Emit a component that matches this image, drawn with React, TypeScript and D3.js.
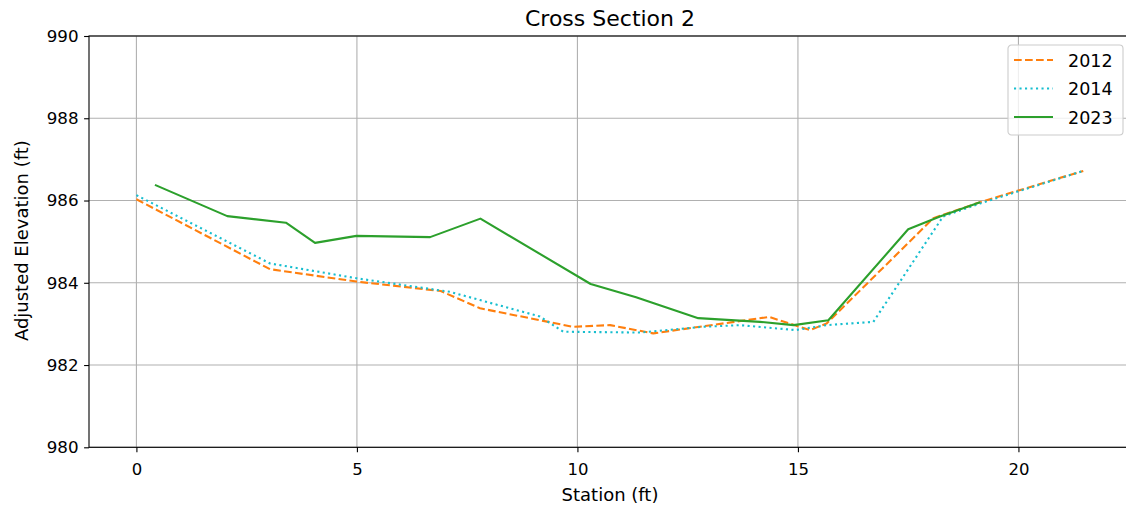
import { useEffect, useRef } from "react";
import * as d3 from "d3";

// survey data
const years = ["2012", "2014", "2023"];
const colors = ["#ff7f0e", "#17becf", "#2ca02c"];
const dashes = ["7.7,3.3", "2.1,3.4", null];

const station2012 = [0, 3.03, 4.99, 6.9, 7.79, 9.9, 10.74, 11.72, 14.35, 15.27, 15.65, 18.07, 19.13, 21.47];
const elev2012 = [986.03, 984.33, 984.03, 983.8, 983.38, 982.93, 982.97, 982.77, 983.17, 982.85, 983.01, 985.57, 985.96, 986.72];

const station2014 = [0, 3.03, 4.99, 7.11, 7.79, 9.15, 9.68, 11.42, 12.85, 13.68, 14.95, 15.65, 16.71, 18.29, 19.13, 21.47];
const elev2014 = [986.13, 984.47, 984.11, 983.78, 983.58, 983.18, 982.81, 982.79, 982.93, 982.97, 982.85, 982.97, 983.05, 985.61, 985.93, 986.72];

const station2023 = [0.42, 2.06, 3.39, 4.05, 4.99, 6.66, 7.8, 10.3, 11.33, 12.74, 14.14, 14.9, 15.69, 17.5, 18.22, 19.13];
const elev2023 = [986.38, 985.62, 985.46, 984.97, 985.14, 985.11, 985.56, 983.97, 983.65, 983.14, 983.05, 982.97, 983.09, 985.3, 985.61, 985.96];

const xTicks = [0, 5, 10, 15, 20];
const yTicks = [980, 982, 984, 986, 988, 990];

const W = 1126;
const H = 510;
const FONT = "DejaVu Sans, sans-serif";

const App = () => {
  const ref = useRef<SVGSVGElement>(null);

  useEffect(() => {
    const svg = d3.select(ref.current);
    svg.selectAll("*").remove();

    const left = 89, top = 36, bottom = 447.3, right = 1132;
    const x = d3.scaleLinear().domain([-1.075, 22.575]).range([left, right]);
    const y = d3.scaleLinear().domain([980, 990]).range([bottom, top]);

    svg.append("rect").attr("width", W).attr("height", H).attr("fill", "white");

    // grid
    const grid = svg.append("g").attr("stroke", "#b0b0b0").attr("stroke-width", 1.1);
    xTicks.forEach((t) => {
      grid.append("line").attr("x1", x(t)).attr("x2", x(t)).attr("y1", top).attr("y2", bottom);
    });
    yTicks.forEach((t) => {
      grid.append("line").attr("x1", left).attr("x2", right).attr("y1", y(t)).attr("y2", y(t));
    });

    // series
    const series = [
      { st: station2012, el: elev2012 },
      { st: station2014, el: elev2014 },
      { st: station2023, el: elev2023 },
    ];
    const line = d3
      .line<[number, number]>()
      .x((d) => x(d[0]))
      .y((d) => y(d[1]));

    svg.append("defs").append("clipPath").attr("id", "plotclip")
      .append("rect").attr("x", left).attr("y", top).attr("width", right - left).attr("height", bottom - top);

    series.forEach((s, i) => {
      const pts = s.st.map((v, j) => [v, s.el[j]] as [number, number]);
      svg.append("path")
        .attr("d", line(pts))
        .attr("fill", "none")
        .attr("stroke", colors[i])
        .attr("stroke-width", 2.1)
        .attr("stroke-dasharray", dashes[i])
        .attr("stroke-linejoin", "round")
        .attr("clip-path", "url(#plotclip)");
    });

    // spines
    svg.append("rect")
      .attr("x", left).attr("y", top)
      .attr("width", right - left).attr("height", bottom - top)
      .attr("fill", "none").attr("stroke", "black").attr("stroke-width", 1.1);

    // x axis
    const gx = svg.append("g").attr("transform", `translate(0,${bottom})`)
      .call(d3.axisBottom(x).tickValues(xTicks).tickSize(4.9).tickPadding(4.9).tickFormat(d3.format("d")));
    gx.select(".domain").remove();
    gx.selectAll("line").attr("stroke", "black").attr("stroke-width", 1.1);
    gx.selectAll("text").attr("font-family", FONT).attr("font-size", 16.5).attr("fill", "black")
      .attr("dy", null).attr("y", 28);

    // y axis
    const gy = svg.append("g").attr("transform", `translate(${left},0)`)
      .call(d3.axisLeft(y).tickValues(yTicks).tickSize(4.9).tickPadding(5.5).tickFormat(d3.format("d")));
    gy.select(".domain").remove();
    gy.selectAll("line").attr("stroke", "black").attr("stroke-width", 1.1);
    gy.selectAll("text").attr("font-family", FONT).attr("font-size", 16.7).attr("fill", "black");

    // labels
    svg.append("text").attr("x", 610).attr("y", 26).attr("text-anchor", "middle")
      .attr("font-family", FONT).attr("font-size", 22).text("Cross Section 2");
    svg.append("text").attr("x", 610).attr("y", 501).attr("text-anchor", "middle")
      .attr("font-family", FONT).attr("font-size", 18).text("Station (ft)");
    svg.append("text").attr("transform", `translate(28,${(top + bottom) / 2 - 1}) rotate(-90)`).attr("text-anchor", "middle")
      .attr("font-family", FONT).attr("font-size", 18).text("Adjusted Elevation (ft)");

    // legend
    const lg = svg.append("g").attr("transform", "translate(1008,45)");
    lg.append("rect").attr("width", 115).attr("height", 90).attr("rx", 3.5)
      .attr("fill", "white").attr("fill-opacity", 0.8).attr("stroke", "#cccccc").attr("stroke-width", 1.1);
    years.forEach((yr, i) => {
      const yy = 15 + i * 28.5;
      lg.append("line").attr("x1", 6).attr("x2", 45).attr("y1", yy).attr("y2", yy)
        .attr("stroke", colors[i]).attr("stroke-width", 2.1).attr("stroke-dasharray", dashes[i]);
      lg.append("text").attr("x", 60).attr("y", yy + 6.5).attr("font-family", FONT).attr("font-size", 17.5).text(yr);
    });
  }, []);

  return (
    <svg ref={ref} width={W} height={H} style={{ position: "absolute", left: 0, top: 0 }}></svg>
  );
};

export default App;
